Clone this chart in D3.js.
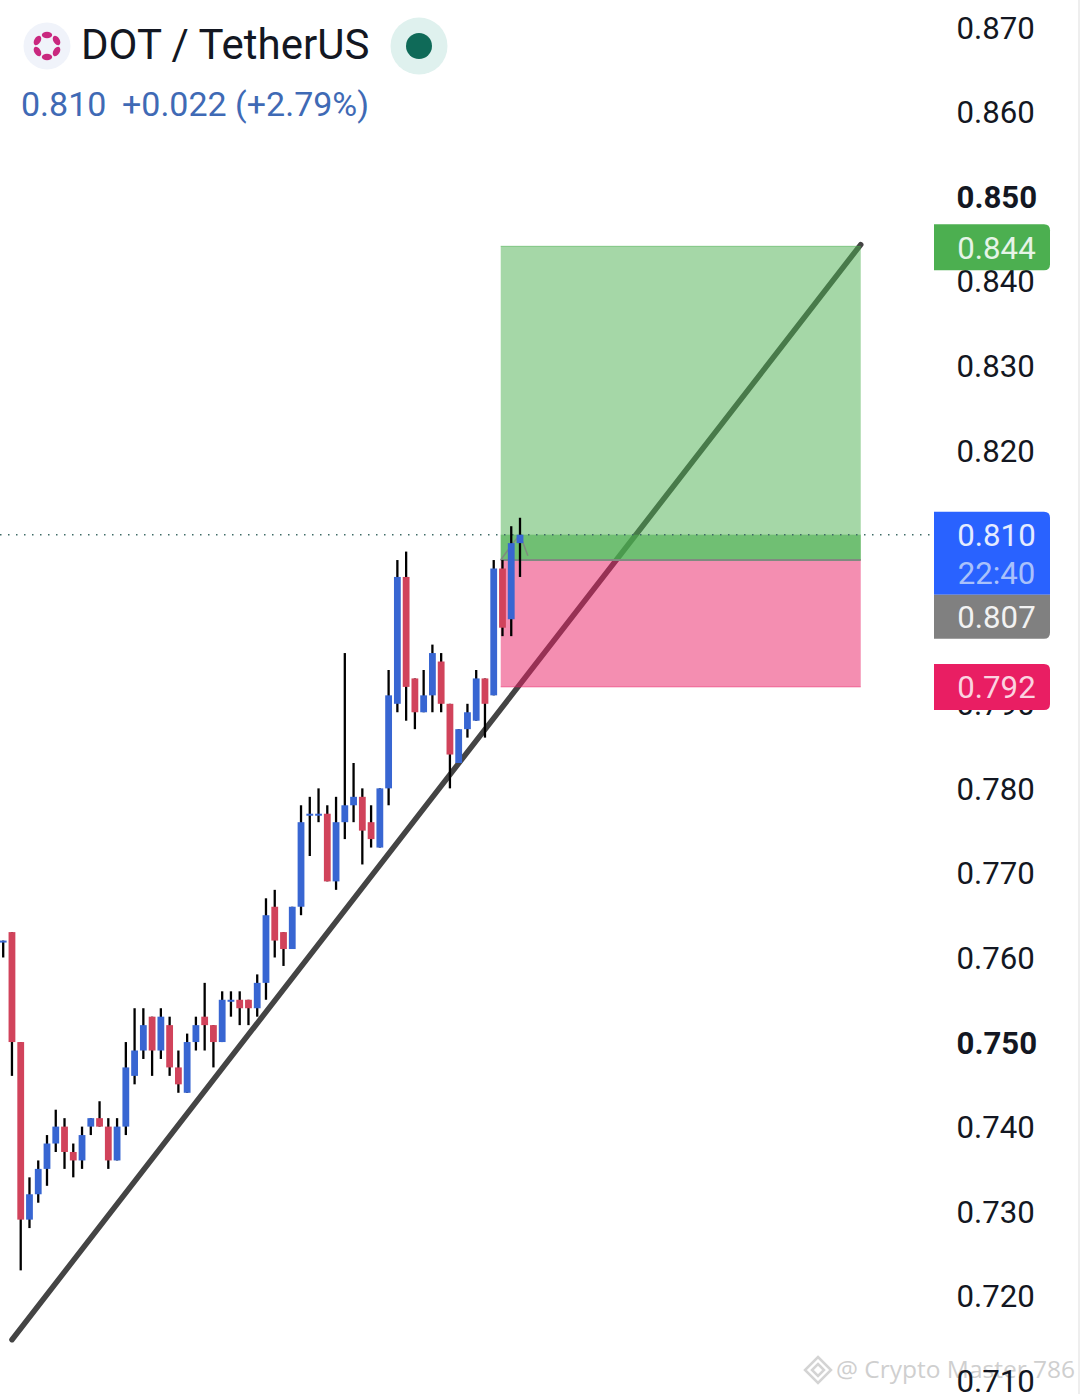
<!DOCTYPE html>
<html>
<head>
<meta charset="utf-8">
<title>DOT / TetherUS</title>
<script src="https://cdn.jsdelivr.net/npm/d3@7"></script>
<style>
    html, body { margin: 0; padding: 0; background: #fff; }
    svg { display: block; font-family: Roboto, sans-serif; }
</style>
</head>
<body>
<div id="chart"></div>
<script>
// Candles, oldest first. Blue when close >= open, red otherwise
const opens = [0.762,0.763,0.750,0.729,0.732,0.735,0.738,0.740,0.737,0.736,
    0.740,0.741,0.740,0.736,0.740,0.746,0.749,0.753,0.749,0.752,
    0.747,0.744,0.750,0.753,0.752,0.750,0.755,0.755,0.755,0.754,
    0.757,0.766,0.763,0.761,0.766,0.777,0.777,0.777,0.769,0.776,
    0.778,0.779,0.776,0.773,0.780,0.790,0.805,0.793,0.789,0.791,
    0.795,0.790,0.783,0.787,0.788,0.793,0.791,0.806,0.800,0.809];
const highs = [0.762,0.763,0.750,0.734,0.736,0.739,0.742,0.741,0.738,0.740,
    0.741,0.743,0.741,0.741,0.750,0.754,0.754,0.753,0.754,0.753,
    0.749,0.751,0.753,0.757,0.752,0.756,0.756,0.756,0.755,0.758,
    0.767,0.768,0.763,0.766,0.778,0.779,0.780,0.778,0.779,0.796,
    0.783,0.780,0.778,0.780,0.794,0.807,0.808,0.793,0.794,0.797,
    0.796,0.790,0.787,0.790,0.794,0.793,0.807,0.807,0.811,0.812];
const lows = [0.760,0.746,0.723,0.728,0.731,0.733,0.737,0.735,0.734,0.735,
    0.739,0.740,0.735,0.736,0.739,0.745,0.748,0.746,0.748,0.746,
    0.744,0.744,0.749,0.749,0.747,0.750,0.753,0.752,0.752,0.753,
    0.755,0.760,0.759,0.761,0.765,0.772,0.776,0.769,0.768,0.774,
    0.776,0.771,0.773,0.773,0.778,0.789,0.788,0.787,0.789,0.789,
    0.789,0.780,0.783,0.786,0.788,0.786,0.791,0.798,0.798,0.805];
const closes = [0.762,0.750,0.729,0.732,0.735,0.738,0.740,0.737,0.736,0.739,
    0.741,0.740,0.736,0.740,0.747,0.749,0.752,0.749,0.753,0.747,
    0.745,0.750,0.752,0.752,0.750,0.755,0.755,0.754,0.754,0.757,
    0.765,0.762,0.761,0.766,0.776,0.777,0.777,0.769,0.776,0.778,
    0.779,0.775,0.774,0.780,0.791,0.805,0.792,0.789,0.791,0.796,
    0.790,0.784,0.787,0.789,0.793,0.790,0.806,0.799,0.809,0.810];

const priceTicks = [0.870,0.860,0.850,0.840,0.830,0.820,0.810,0.790,0.780,0.770,0.760,0.750,0.740,0.730,0.720,0.710];
const boldTicks = [0.850,0.750];

// Long position tool and the trend line (bar index, price)
const targetPrice = 0.8441;
const entryPrice = 0.807;
const stopPrice = 0.792;
const lastPrice = 0.810;
const positionBars = [56.8, 97.9];
const trendBars = [1, 97.9];
const trendPrices = [0.7148, 0.8443];
const pathBars = [56.8, 58.2, 59, 59.9];
const pathPrices = [0.807, 0.809, 0.810, 0.8075];

const width = 1080;
const height = 1394;

const svg = d3.select('#chart')
    .append('svg')
    .attr('width', width)
    .attr('height', height);

const x = d3.scaleLinear().domain([0, 59]).range([3.2, 520]);
const y = d3.scaleLinear().domain([0.870, 0.710]).range([27.3, 1380.3]);

// Right edge of the screenshot
svg.append('line')
    .attr('x1', 1079).attr('x2', 1079)
    .attr('y1', 0).attr('y2', height)
    .attr('stroke', '#e9e9e9')
    .attr('stroke-width', 1.5);

// Trend line goes under the translucent boxes
svg.append('line')
    .attr('x1', x(trendBars[0]))
    .attr('y1', y(trendPrices[0]))
    .attr('x2', x(trendBars[1]))
    .attr('y2', y(trendPrices[1]))
    .attr('stroke', '#444')
    .attr('stroke-width', 5.5)
    .attr('stroke-linecap', 'round');

const boxX = x(positionBars[0]);
const boxW = x(positionBars[1]) - boxX;

svg.append('rect')
    .attr('x', boxX).attr('width', boxW)
    .attr('y', y(targetPrice)).attr('height', y(entryPrice) - y(targetPrice))
    .attr('fill', 'rgba(76,175,80,0.5)');
svg.append('rect')
    .attr('x', boxX).attr('width', boxW)
    .attr('y', y(lastPrice)).attr('height', y(entryPrice) - y(lastPrice))
    .attr('fill', 'rgba(76,175,80,0.6)');
svg.append('rect')
    .attr('x', boxX).attr('width', boxW)
    .attr('y', y(entryPrice)).attr('height', y(stopPrice) - y(entryPrice))
    .attr('fill', 'rgba(233,30,99,0.5)');

// Box borders
[[targetPrice, 'rgba(76,175,80,0.6)'], [entryPrice, '#808a80'], [stopPrice, 'rgba(233,30,99,0.5)']].forEach(d => {
    svg.append('line')
        .attr('x1', boxX).attr('x2', boxX + boxW)
        .attr('y1', y(d[0])).attr('y2', y(d[0]))
        .attr('stroke', d[1])
        .attr('stroke-width', d[0] === entryPrice ? 2 : 1);
});

// Thin price path inside the position tool
svg.append('path')
    .attr('d', d3.line().x(d => x(d[0])).y(d => y(d[1]))(d3.zip(pathBars, pathPrices)))
    .attr('fill', 'none')
    .attr('stroke', '#808a80')
    .attr('stroke-width', 1.5);

// Last price line
svg.append('line')
    .attr('x1', 0).attr('x2', 934)
    .attr('y1', y(lastPrice)).attr('y2', y(lastPrice))
    .attr('stroke', '#3f6b66')
    .attr('stroke-width', 1.5)
    .attr('stroke-dasharray', '1.5 6.5');

// Candles
const candles = d3.range(opens.length);
const upColor = '#3866d2';
const downColor = '#d1435b';

svg.append('g').selectAll('line')
    .data(candles)
    .enter()
    .append('line')
    .attr('x1', i => x(i)).attr('x2', i => x(i))
    .attr('y1', i => y(highs[i]))
    .attr('y2', i => y(lows[i]))
    .attr('stroke', '#000')
    .attr('stroke-width', 2.3);

svg.append('g').selectAll('rect')
    .data(candles)
    .enter()
    .append('rect')
    .attr('x', i => x(i) - 3.4)
    .attr('width', 6.8)
    .attr('y', i => y(Math.max(opens[i], closes[i])))
    .attr('height', i => Math.max(2, Math.abs(y(opens[i]) - y(closes[i]))))
    .attr('fill', i => closes[i] >= opens[i] ? upColor : downColor);

// Watermark goes first so the axis labels sit on top of it
const mark = svg.append('g').attr('fill', 'none').attr('stroke', '#d4d4d4').attr('stroke-width', 2.5);
mark.append('path').attr('d', 'M818,1357 L831,1370 L818,1383 L805,1370 Z');
mark.append('path').attr('d', 'M818,1364 L824,1370 L818,1376 L812,1370 Z');
svg.append('text')
    .attr('x', 836).attr('y', 1378)
    .attr('fill', '#cfcfcf')
    .style('font-family', '"Open Sans", sans-serif')
    .style('font-size', '24.5px')
    .text('@ Crypto Master 786');

// Price axis
const axis = d3.axisRight(y)
    .tickValues(priceTicks)
    .tickFormat(d3.format('.3f'))
    .tickSize(0)
    .tickPadding(0);

const axisG = svg.append('g')
    .attr('transform', 'translate(956.5,1)')
    .call(axis);
axisG.select('.domain').remove();
axisG.selectAll('text')
    .attr('fill', '#131722')
    .style('font-size', '31.2px')
    .style('font-family', 'Roboto, sans-serif')
    .style('font-weight', d => boldTicks.includes(d) ? 700 : 400);

// Price labels on the axis, square on the left and rounded on the right
function priceTag(top, bottom, fill, roundTop, roundBottom) {
    const l = 934, r = 1050, rTop = roundTop ? 6 : 0, rBot = roundBottom ? 6 : 0;
    const p = d3.path();
    p.moveTo(l, top);
    p.lineTo(r - rTop, top);
    p.quadraticCurveTo(r, top, r, top + rTop);
    p.lineTo(r, bottom - rBot);
    p.quadraticCurveTo(r, bottom, r - rBot, bottom);
    p.lineTo(l, bottom);
    p.closePath();
    svg.append('path').attr('d', p.toString()).attr('fill', fill);
}

function tagText(label, cy, fill) {
    svg.append('text')
        .attr('x', 996.5)
        .attr('y', cy)
        .attr('dy', '0.36em')
        .attr('text-anchor', 'middle')
        .attr('fill', fill)
        .style('font-size', '31.2px')
        .text(label);
}

const fmt = d3.format('.3f');
const tagHalf = 23;

priceTag(y(targetPrice) - tagHalf + 1, y(targetPrice) + tagHalf + 1, '#4caf50', true, true);
tagText(fmt(targetPrice), y(targetPrice) + 1, '#e6f4e7');

priceTag(y(lastPrice) - tagHalf, y(lastPrice) + 60, '#2962ff', true, false);
tagText(fmt(lastPrice), y(lastPrice) + 0.5, '#e4ebff');
tagText('22:40', y(lastPrice) + 38, '#a9c1fb');

priceTag(y(lastPrice) + 60, y(lastPrice) + 104, '#808080', false, true);
tagText(fmt(entryPrice), y(lastPrice) + 82, '#f2f2f2');

priceTag(y(stopPrice) - tagHalf, y(stopPrice) + tagHalf, '#e91e63', true, true);
tagText(fmt(stopPrice), y(stopPrice), '#fbd3e0');

// Header
const header = svg.append('g');
header.append('circle').attr('cx', 47).attr('cy', 46).attr('r', 23.5).attr('fill', '#f0f3fa');
d3.range(6).forEach(k => {
    const a = k * 60 - 90;
    const t = a * Math.PI / 180;
    header.append('ellipse')
        .attr('cx', 47 + 11 * Math.cos(t))
        .attr('cy', 46 + 11 * Math.sin(t))
        .attr('rx', 5.2).attr('ry', 3.2)
        .attr('transform', `rotate(${a + 90} ${47 + 11 * Math.cos(t)} ${46 + 11 * Math.sin(t)})`)
        .attr('fill', '#c9287f');
});
header.append('text')
    .attr('x', 81).attr('y', 59)
    .attr('fill', '#131722')
    .style('font-size', '42px')
    .text('DOT / TetherUS');
header.append('circle').attr('cx', 419).attr('cy', 46).attr('r', 28.5).attr('fill', '#dff1ee');
header.append('circle').attr('cx', 419).attr('cy', 46).attr('r', 13).attr('fill', '#0f6a58');

header.append('text')
    .attr('x', 21).attr('y', 116)
    .attr('fill', '#3f6ab5')
    .style('font-size', '34px')
    .text('0.810');
header.append('text')
    .attr('x', 122).attr('y', 116)
    .attr('fill', '#3f6ab5')
    .style('font-size', '34px')
    .text('+0.022 (+2.79%)');
</script>
</body>
</html>
